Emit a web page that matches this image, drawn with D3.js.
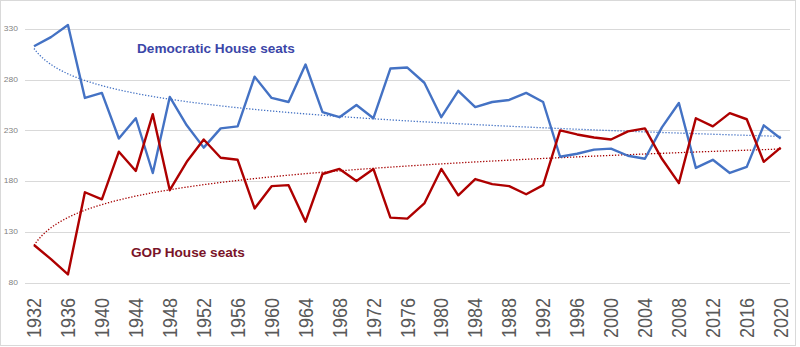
<!DOCTYPE html>
<html><head><meta charset="utf-8">
<script src="https://cdn.jsdelivr.net/npm/d3@7"></script>
<style>
html,body{margin:0;padding:0;background:#fff;}
svg{display:block;font-family:"Liberation Sans",Arial,sans-serif;}
</style></head>
<body>
<svg id="chart" width="800" height="347"></svg>
<script>
const years = [1932,1934,1936,1938,1940,1942,1944,1946,1948,1950,1952,1954,1956,1958,1960,1962,1964,1966,1968,1970,1972,1974,1976,1978,1980,1982,1984,1986,1988,1990,1992,1994,1996,1998,2000,2002,2004,2006,2008,2010,2012,2014,2016,2018,2020];
const demSeats = [313,322,334,262,267,222,242,188,263,235,213,232,234,283,262,258,295,248,243,255,242,291,292,277,243,269,253,258,260,267,258,204,207,211,212,205,202,233,257,193,201,188,194,235,222];
const gopSeats = [117,103,88,169,162,209,190,246,171,199,221,203,201,153,175,176,140,187,192,180,192,144,143,158,192,166,182,177,175,167,176,230,226,223,221,229,232,202,178,242,234,247,241,199,213];
const yTicks = [80,130,180,230,280,330];
const xTickYears = [1932,1936,1940,1944,1948,1952,1956,1960,1964,1968,1972,1976,1980,1984,1988,1992,1996,2000,2004,2008,2012,2016,2020];
const seriesLabels = ["Democratic House seats","GOP House seats"];

const svg = d3.select("#chart");
const x = d3.scaleLinear().domain([1932,2020]).range([34,780.7]);
const y = d3.scaleLinear().domain([80,330]).range([282.5,29]);

// frame
svg.append("rect").attr("x",0.5).attr("y",0.5).attr("width",795).attr("height",345)
  .attr("fill","#fff").attr("stroke","#d9d9d9").attr("stroke-width",1);

// gridlines
svg.append("g").selectAll("line").data(yTicks).join("line")
  .attr("x1",25).attr("x2",790)
  .attr("y1",d=>Math.round(y(d))+0.5).attr("y2",d=>Math.round(y(d))+0.5)
  .attr("stroke","#d9d9d9").attr("stroke-width",1);

// y labels
svg.append("g").selectAll("text").data(yTicks).join("text")
  .attr("transform",d=>`translate(18,${y(d)}) scale(1,0.8)`)
  .attr("dy","0.35em").attr("text-anchor","end")
  .attr("font-size","8.5px").attr("fill","#7f7f7f").text(d=>d);

// x labels
svg.append("g").selectAll("text").data(xTickYears).join("text")
  .attr("transform",d=>`translate(${x(d)},298) scale(1,0.88) rotate(-90)`)
  .attr("dy","0.35em").attr("text-anchor","end")
  .attr("font-size","20.5px").attr("fill","#595959").text(d=>d);

// log trendlines
function logTrend(vals){
  const n = vals.length;
  const xs = vals.map((v,i)=>Math.log(i+1));
  const mx = d3.mean(xs), my = d3.mean(vals);
  let sxy=0,sxx=0;
  xs.forEach((lx,i)=>{sxy+=(lx-mx)*(vals[i]-my);sxx+=(lx-mx)*(lx-mx);});
  const b = sxy/sxx, a = my - b*mx;
  const pts=[];
  for(let t=1;t<=n;t+=0.1){pts.push([1932+(t-1)*2, a+b*Math.log(t)]);}
  pts.push([1932+(n-1)*2, a+b*Math.log(n)]);
  return pts;
}
const line = d3.line().x(d=>x(d[0])).y(d=>y(d[1]));
svg.append("path").datum(logTrend(demSeats)).attr("d",line)
  .attr("fill","none").attr("stroke","#4472C4").attr("stroke-width",1.3).attr("stroke-dasharray","1.3,1.7");
svg.append("path").datum(logTrend(gopSeats)).attr("d",line)
  .attr("fill","none").attr("stroke","#A50000").attr("stroke-width",1.3).attr("stroke-dasharray","1.3,1.7");

// data lines
const dataLine = d3.line().x((d,i)=>x(years[i])).y(d=>y(d));
svg.append("path").datum(demSeats).attr("d",dataLine)
  .attr("fill","none").attr("stroke","#4472C4").attr("stroke-width",2.4).attr("stroke-linejoin","round");
svg.append("path").datum(gopSeats).attr("d",dataLine)
  .attr("fill","none").attr("stroke","#AE0000").attr("stroke-width",2.4).attr("stroke-linejoin","round");

// annotations
svg.append("text").attr("x",137).attr("y",53.3).attr("font-size","13.6px").attr("font-weight","bold")
  .attr("fill","#3B46A8").text(seriesLabels[0]);
svg.append("text").attr("x",131).attr("y",256.7).attr("font-size","13.6px").attr("font-weight","bold")
  .attr("fill","#7A1428").text(seriesLabels[1]);
</script>
</body></html>
